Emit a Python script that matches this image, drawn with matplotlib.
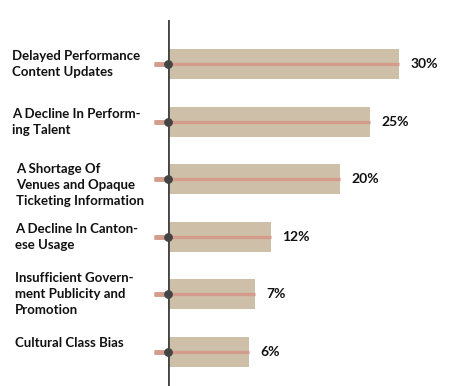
import matplotlib
matplotlib.use("Agg")
import matplotlib.pyplot as plt
from matplotlib.transforms import blended_transform_factory

# data
categories = [
    "Delayed Performance\nContent Updates",
    "A Decline In Perform-\ning Talent",
    "A Shortage Of\nVenues and Opaque\nTicketing Information",
    "A Decline In Canton-\nese Usage",
    "Insufficient Govern-\nment Publicity and\nPromotion",
    "Cultural Class Bias",
]
pct_labels = ["30%", "25%", "20%", "12%", "7%", "6%"]
# drawn bar lengths (not proportional to the printed percentages in the original)
bar_lengths = [30, 26.2, 22.3, 13.3, 11.2, 10.4]

plt.rcParams['font.family'] = ['Lato', 'DejaVu Sans']

W, H = 461, 386
fig = plt.figure(figsize=(W / 100, H / 100), dpi=100)
ax = fig.add_axes([168 / W, 0, (W - 168) / W, (H - 20) / H])

y = list(range(len(categories)))
ax.barh(y, bar_lengths, height=0.52, color="#cdbfa8", left=0.15, zorder=1)
for yi, L in zip(y, bar_lengths):
    ax.plot([-1.85, L + 0.15], [yi, yi], color="#d39c8c", lw=2.4, zorder=2,
            clip_on=False, solid_capstyle="butt")
    ax.plot([-1.85, 0], [yi, yi], color="#d39c8c", lw=3.5, zorder=2,
            clip_on=False, solid_capstyle="butt")
ax.scatter([0] * len(y), y, s=28, color="#444444", zorder=4, clip_on=False)
ax.axvline(0, color="#444444", lw=2, zorder=3)

for yi, L, lab in zip(y, bar_lengths, pct_labels):
    ax.text(L + 1.6, yi, lab, va="center", ha="left", fontsize=10,
            fontweight="bold", color="#111111")

label_dy = [0, 0, 0.1, 0, 0, -0.15]
label_x = [12, 12, 16, 15, 15, 15]
trans = blended_transform_factory(fig.transFigure, ax.transData)
for yi, cat, dy, lx in zip(y, categories, label_dy, label_x):
    ax.text(lx / W, yi + dy, cat, transform=trans, va="center", ha="left",
            fontsize=9.5, fontweight="bold", color="#111111", linespacing=1.4)

ax.set_xlim(0, (W - 168) / 7.67)
ax.set_ylim(5.59, -0.764)
ax.axis("off")

fig.savefig("out.png", dpi=100)
